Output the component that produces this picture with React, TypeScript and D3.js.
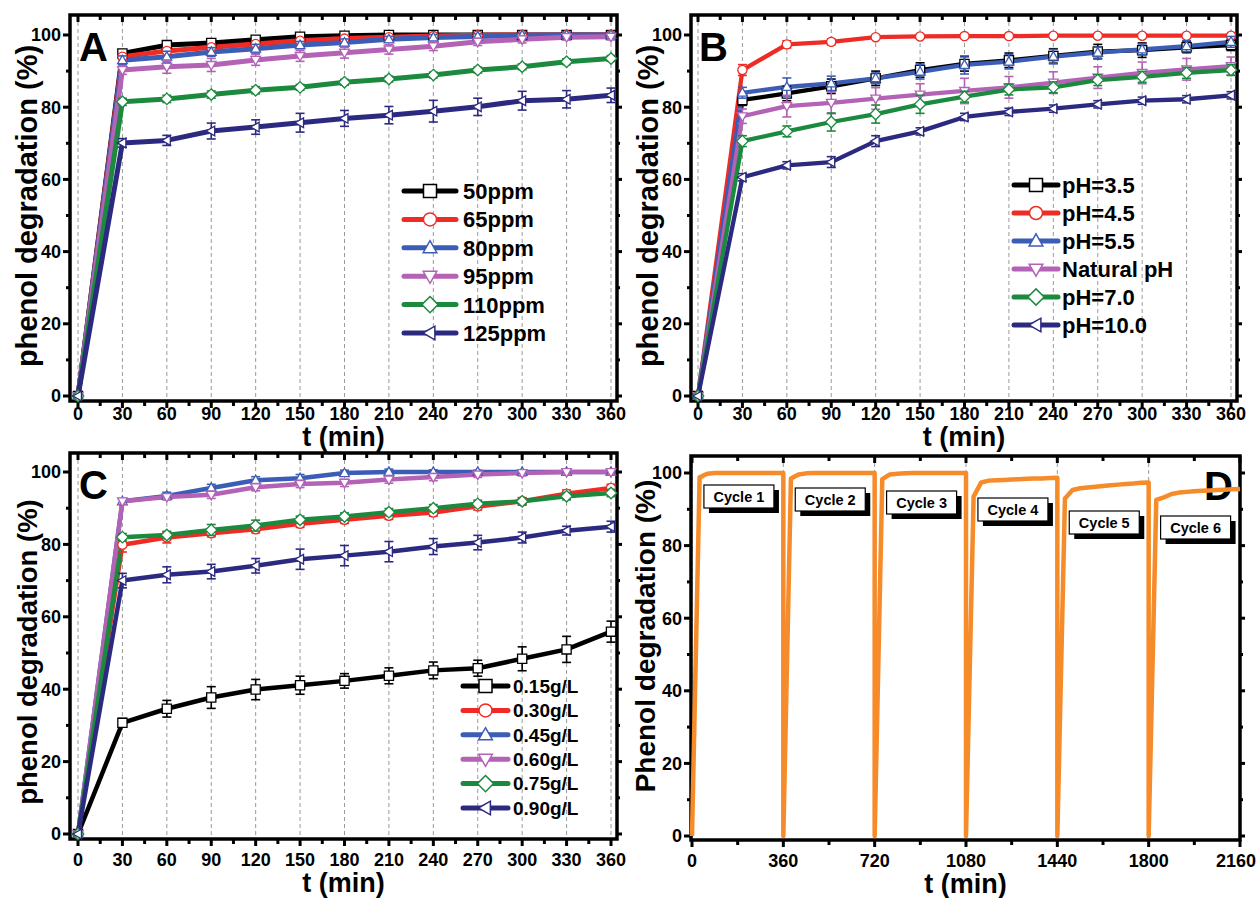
import React from 'react';
import * as d3 from 'd3';

// ---------- DATA ----------
const TIMES = [0, 30, 60, 90, 120, 150, 180, 210, 240, 270, 300, 330, 360];
const X_TICKS = [0, 30, 60, 90, 120, 150, 180, 210, 240, 270, 300, 330, 360];
const Y_TICKS = [0, 20, 40, 60, 80, 100];
const D_X_TICKS = [0, 360, 720, 1080, 1440, 1800, 2160];

// Panel A: initial concentration
const A_LABELS = ['50ppm', '65ppm', '80ppm', '95ppm', '110ppm', '125ppm'];
const A_50 = [0, 94.9, 97.2, 97.8, 98.7, 99.5, 99.8, 100, 100, 100, 100, 100, 100];
const A_65 = [0, 94.0, 95.6, 96.6, 97.5, 98.4, 99.0, 99.4, 99.7, 99.9, 100, 100, 100];
const A_80 = [0, 93.0, 94.0, 95.3, 96.2, 97.2, 97.9, 98.8, 99.3, 99.6, 99.9, 100, 100];
const A_95 = [0, 90.3, 91.2, 91.7, 93.1, 94.2, 95.1, 96.0, 96.9, 98.1, 98.8, 99.4, 99.5];
const A_110 = [0, 81.5, 82.3, 83.5, 84.7, 85.5, 86.9, 87.8, 88.9, 90.3, 91.2, 92.6, 93.5];
const A_125 = [0, 70.1, 70.8, 73.4, 74.5, 75.7, 76.9, 77.8, 78.9, 80.1, 81.8, 82.2, 83.3];
const A_50_ERR = [0, 1, 0.8, 0.8, 0.7, 0.6, 0.5, 0.5, 0.4, 0.4, 0.4, 0.3, 0.3];
const A_65_ERR = [0, 0.8, 0.8, 0.8, 0.7, 0.6, 0.5, 0.5, 0.4, 0.4, 0.4, 0.3, 0.3];
const A_80_ERR = [0, 1.2, 1.5, 1.2, 1.2, 1, 1, 0.8, 0.8, 0.7, 0.6, 0.5, 0.5];
const A_95_ERR = [0, 1.2, 1.8, 1.8, 1.5, 1.5, 1.5, 1.3, 1.2, 1, 1, 0.8, 0.8];
const A_110_ERR = [0, 1, 1, 1, 1, 0.8, 0.8, 0.8, 0.8, 0.8, 0.8, 0.8, 0.8];
const A_125_ERR = [0, 1.2, 1.4, 2.2, 2, 2.6, 2.2, 2.4, 3, 2.4, 2.6, 2.4, 2];

// Panel B: pH
const B_LABELS = ['pH=3.5', 'pH=4.5', 'pH=5.5', 'Natural pH', 'pH=7.0', 'pH=10.0'];
const B_35 = [0, 82.0, 83.8, 85.8, 88.0, 90.3, 92.0, 93.0, 94.2, 95.4, 95.8, 96.6, 97.2];
const B_45 = [0, 90.3, 97.4, 98.1, 99.4, 99.6, 99.7, 99.7, 99.8, 99.8, 99.8, 99.8, 99.8];
const B_55 = [0, 84.0, 85.6, 86.6, 88.0, 89.8, 91.7, 92.6, 94.0, 95.1, 96.0, 96.9, 98.1];
const B_NAT = [0, 77.5, 80.3, 81.2, 82.4, 83.5, 84.5, 85.5, 86.8, 88.2, 89.5, 90.5, 91.4];
const B_70 = [0, 70.6, 73.3, 75.9, 78.1, 80.8, 82.9, 84.9, 85.5, 87.5, 88.4, 89.5, 90.3];
const B_100 = [0, 60.6, 63.9, 64.8, 70.6, 73.3, 77.3, 78.7, 79.6, 80.8, 81.8, 82.2, 83.3];
const B_35_ERR = [0, 1.5, 2, 2, 2, 2, 2, 2, 2, 2, 2, 1.5, 1.5];
const B_45_ERR = [0, 1.5, 1, 0.8, 0.5, 0.5, 0.5, 0.5, 0.5, 0.5, 0.5, 0.5, 0.5];
const B_55_ERR = [0, 1.5, 2.5, 2, 1.5, 2, 2.5, 2, 2, 1.5, 1.5, 1.5, 1.5];
const B_NAT_ERR = [0, 2, 3, 3, 3, 3, 3.5, 3, 3, 3, 3, 3, 2.5];
const B_70_ERR = [0, 1.5, 1.5, 2.5, 2.5, 2.5, 1.5, 1.5, 1.5, 1.5, 1.5, 1.5, 1.5];
const B_100_ERR = [0, 1, 1, 1.5, 1.5, 1, 1, 1, 1, 1, 1, 1, 1];

// Panel C: catalyst dose
const C_LABELS = ['0.15g/L', '0.30g/L', '0.45g/L', '0.60g/L', '0.75g/L', '0.90g/L'];
const C_015 = [0, 30.7, 34.6, 37.7, 39.9, 41.1, 42.3, 43.7, 45.2, 45.8, 48.4, 51.0, 55.9];
const C_030 = [0, 79.9, 81.9, 83.1, 84.2, 85.7, 86.8, 87.9, 88.8, 90.5, 91.9, 94.0, 95.6];
const C_045 = [0, 91.9, 93.4, 95.6, 97.7, 98.3, 99.7, 100, 100, 100, 100, 100, 100];
const C_060 = [0, 91.9, 93.1, 93.7, 95.8, 96.7, 97.0, 97.9, 98.6, 99.3, 99.7, 100, 100];
const C_075 = [0, 82.0, 82.6, 84.0, 85.2, 86.8, 87.7, 88.9, 90.0, 91.2, 91.9, 93.3, 94.2];
const C_090 = [0, 70.0, 71.6, 72.5, 74.1, 75.9, 76.9, 78.0, 79.4, 80.5, 81.9, 83.8, 84.9];
const C_015_ERR = [0, 1.2, 2.3, 3, 2.8, 2.5, 2, 2.2, 2.3, 2.2, 3.3, 3.6, 2.9];
const C_030_ERR = [0, 2, 1.5, 1, 1, 1, 1, 1, 1, 1, 1, 1, 1];
const C_045_ERR = [0, 0.5, 1, 1, 1, 1, 0.8, 0.8, 0.6, 0.5, 0.5, 0.5, 0.5];
const C_060_ERR = [0, 0.8, 0.8, 1, 1, 1, 1, 1, 1, 0.8, 0.8, 0.8, 0.8];
const C_075_ERR = [0, 1, 1, 1.5, 1.5, 1, 1, 1, 1, 1, 1, 1, 1];
const C_090_ERR = [0, 2, 2.2, 2, 2, 2.8, 2.8, 2.8, 2.2, 2, 1.5, 1.2, 1.5];

// Panel D: recycling (each cycle sampled every 30 min)
const CYCLE_LABELS = ['Cycle 1', 'Cycle 2', 'Cycle 3', 'Cycle 4', 'Cycle 5', 'Cycle 6'];
const CYCLE_1 = [0, 98.8, 99.8, 100, 100, 100, 100, 100, 100, 100, 100, 100, 100];
const CYCLE_2 = [0, 98.5, 99.6, 99.9, 100, 100, 100, 100, 100, 100, 100, 100, 100];
const CYCLE_3 = [0, 98.3, 99.6, 99.8, 99.9, 100, 100, 100, 100, 100, 100, 100, 100];
const CYCLE_4 = [0, 93.5, 97.4, 97.9, 98.0, 98.1, 98.2, 98.3, 98.4, 98.5, 98.5, 98.6, 98.7];
const CYCLE_5 = [0, 93.0, 95.3, 95.8, 96.0, 96.2, 96.4, 96.6, 96.8, 97.0, 97.1, 97.3, 97.4];
const CYCLE_6 = [0, 92.6, 93.3, 94.2, 94.6, 94.8, 95.0, 95.1, 95.2, 95.3, 95.4, 95.5, 95.6];

// ---------- STYLE ----------
const COLORS = ['#000000', '#ee2b25', '#3b5db5', '#b462b6', '#1c8a3e', '#2c2a80'];
const SHAPES = ['square', 'circle', 'up', 'down', 'diamond', 'left'];
const ORANGE = '#f68b2a';
const FONT = "'Liberation Sans', Arimo, Arial, sans-serif";
const PAGE_W = 1257;

type Series = { label: string; values: number[]; err: number[] };

const mk = (labels: string[], vals: number[][], errs: number[][]): Series[] =>
  labels.map((l, i) => ({ label: l, values: vals[i], err: errs[i] }));

const SERIES_A = mk(A_LABELS, [A_50, A_65, A_80, A_95, A_110, A_125], [A_50_ERR, A_65_ERR, A_80_ERR, A_95_ERR, A_110_ERR, A_125_ERR]);
const SERIES_B = mk(B_LABELS, [B_35, B_45, B_55, B_NAT, B_70, B_100], [B_35_ERR, B_45_ERR, B_55_ERR, B_NAT_ERR, B_70_ERR, B_100_ERR]);
const SERIES_C = mk(C_LABELS, [C_015, C_030, C_045, C_060, C_075, C_090], [C_015_ERR, C_030_ERR, C_045_ERR, C_060_ERR, C_075_ERR, C_090_ERR]);
const CYCLES = [CYCLE_1, CYCLE_2, CYCLE_3, CYCLE_4, CYCLE_5, CYCLE_6];

function markerPath(shape: string, r: number): string {
  switch (shape) {
    case 'square':
      return `M${-r},${-r}H${r}V${r}H${-r}Z`;
    case 'circle':
      return `M${-r},0A${r},${r} 0 1,0 ${r},0A${r},${r} 0 1,0 ${-r},0Z`;
    case 'up':
      return `M0,${-r * 1.1}L${r * 1.05},${r * 0.75}L${-r * 1.05},${r * 0.75}Z`;
    case 'down':
      return `M0,${r * 1.1}L${r * 1.05},${-r * 0.75}L${-r * 1.05},${-r * 0.75}Z`;
    case 'diamond':
      return `M0,${-r * 1.25}L${r * 1.25},0L0,${r * 1.25}L${-r * 1.25},0Z`;
    case 'left':
      return `M${-r * 1.1},0L${r * 0.75},${-r * 1.05}L${r * 0.75},${r * 1.05}Z`;
  }
  return '';
}

function Frame({ box, xs, ys, xMajor, xMinor, yMajor, yMinor, grid, xTitle, yTitle, letter, letterPos, lab }: any) {
  const { fl, fr, ft, fb } = box;
  return (
    <g>
      {grid &&
        xMajor.map((t: number) => (
          <line key={'g' + t} x1={xs(t)} x2={xs(t)} y1={ft} y2={fb} stroke="#9a9a9a" strokeWidth={1} strokeDasharray="4,3" />
        ))}
      {yMajor.map((v: number) => (
        <line key={'ly' + v} x1={fl - 7} x2={fl} y1={ys(v)} y2={ys(v)} stroke="#000" strokeWidth={3} />
      ))}
      {yMinor.map((v: number) => (
        <line key={'lym' + v} x1={fl - 4} x2={fl} y1={ys(v)} y2={ys(v)} stroke="#000" strokeWidth={3} />
      ))}
      {yMajor.map((v: number) => (
        <line key={'ry' + v} x1={fr} x2={fr + 5} y1={ys(v)} y2={ys(v)} stroke="#000" strokeWidth={3} />
      ))}
      {yMinor.map((v: number) => (
        <line key={'rym' + v} x1={fr} x2={fr + 3} y1={ys(v)} y2={ys(v)} stroke="#000" strokeWidth={3} />
      ))}
      {xMajor.map((t: number) => (
        <line key={'bx' + t} x1={xs(t)} x2={xs(t)} y1={fb} y2={fb + 7} stroke="#000" strokeWidth={3} />
      ))}
      {xMinor.map((t: number) => (
        <line key={'bxm' + t} x1={xs(t)} x2={xs(t)} y1={fb} y2={fb + 5} stroke="#000" strokeWidth={3} />
      ))}
      {xMajor.map((t: number) => (
        <line key={'tx' + t} x1={xs(t)} x2={xs(t)} y1={ft} y2={ft + 7} stroke="#000" strokeWidth={3} />
      ))}
      {xMinor.map((t: number) => (
        <line key={'txm' + t} x1={xs(t)} x2={xs(t)} y1={ft} y2={ft + 5} stroke="#000" strokeWidth={3} />
      ))}
      <rect x={fl} y={ft} width={fr - fl} height={fb - ft} fill="none" stroke="#000" strokeWidth={3.5} />
      {yMajor.map((v: number) => (
        <text key={'yl' + v} x={fl - 9} y={ys(v)} dy="0.36em" textAnchor="end" fontFamily={FONT} fontWeight="bold" fontSize={18}>
          {v}
        </text>
      ))}
      {xMajor.map((t: number) => (
        <text
          key={'xl' + t}
          x={Math.min(xs(t), PAGE_W - 21)}
          y={fb + lab.tickDy}
          textAnchor="middle"
          fontFamily={FONT}
          fontWeight="bold"
          fontSize={18}
        >
          {t}
        </text>
      ))}
      <text x={(fl + fr) / 2} y={fb + lab.titleDy} textAnchor="middle" fontFamily={FONT} fontWeight="bold" fontSize={27}>
        {xTitle}
      </text>
      <text
        transform={`translate(${fl - lab.yTitleDx},${lab.yTitleCy}) rotate(-90)`}
        textAnchor="middle"
        fontFamily={FONT}
        fontWeight="bold"
        fontSize={lab.yTitleFs}
      >
        {yTitle}
      </text>
      <text x={letterPos[0]} y={letterPos[1]} fontFamily={FONT} fontWeight="bold" fontSize={40}>
        {letter}
      </text>
    </g>
  );
}

function KineticPanel({ box, x0, x1, y0, y100, series, letter, letterPos, legend, lab, lw }: any) {
  const xs = d3.scaleLinear().domain([0, 360]).range([x0, x1]);
  const ys = d3.scaleLinear().domain([0, 100]).range([y0, y100]);
  const line = d3
    .line<number>()
    .x((_, i) => xs(TIMES[i]))
    .y((d) => ys(d));
  const xMinor = d3.range(15, 360, 30);
  const yMinor = d3.range(10, 100, 20);
  return (
    <g>
      <Frame
        box={box}
        xs={xs}
        ys={ys}
        xMajor={X_TICKS}
        xMinor={xMinor}
        yMajor={Y_TICKS}
        yMinor={yMinor}
        grid
        xTitle="t (min)"
        yTitle="phenol degradation (%)"
        letter={letter}
        letterPos={letterPos}
        lab={lab}
      />
      {series.map((s: Series, si: number) => (
        <path key={s.label} d={line(s.values) || ''} fill="none" stroke={COLORS[si]} strokeWidth={lw} strokeLinejoin="round" />
      ))}
      {series.map((s: Series, si: number) => (
        <g key={s.label + 'm'}>
          {s.values.map((v, i) => {
            const e = s.err[i];
            const cx = xs(TIMES[i]);
            return (
              <g key={i}>
                {e > 0 && (
                  <g stroke={COLORS[si]} strokeWidth={1.6}>
                    <line x1={cx} x2={cx} y1={ys(v - e)} y2={ys(v + e)} />
                    <line x1={cx - 4.5} x2={cx + 4.5} y1={ys(v - e)} y2={ys(v - e)} />
                    <line x1={cx - 4.5} x2={cx + 4.5} y1={ys(v + e)} y2={ys(v + e)} />
                  </g>
                )}
                <path
                  d={markerPath(SHAPES[si], 4.6)}
                  transform={`translate(${cx},${ys(v)})`}
                  fill="#fff"
                  stroke={COLORS[si]}
                  strokeWidth={1.3}
                />
              </g>
            );
          })}
        </g>
      ))}
      {series.map((s: Series, si: number) => {
        const ly = legend.y + si * legend.dy;
        return (
          <g key={'leg' + si}>
            <line x1={legend.x} x2={legend.x + legend.w} y1={ly} y2={ly} stroke={COLORS[si]} strokeWidth={5} strokeLinecap="round" />
            <path
              d={markerPath(SHAPES[si], legend.r)}
              transform={`translate(${legend.x + legend.w / 2},${ly})`}
              fill="#fff"
              stroke={COLORS[si]}
              strokeWidth={1.5}
            />
            <text x={legend.tx} y={ly} dy="0.36em" fontFamily={FONT} fontWeight="bold" fontSize={legend.fs}>
              {s.label}
            </text>
          </g>
        );
      })}
    </g>
  );
}

function CyclePanel({ box, x0, x1, y0, y100, lab }: any) {
  const xs = d3.scaleLinear().domain([0, 2160]).range([x0, x1]);
  const ys = d3.scaleLinear().domain([0, 100]).range([y0, y100]);
  const pts: [number, number][] = [];
  CYCLES.forEach((c, k) => c.forEach((v, i) => pts.push([k * 360 + TIMES[i], v])));
  const line = d3
    .line<[number, number]>()
    .x((d) => xs(d[0]))
    .y((d) => ys(d[1]));
  const xMinor = d3.range(180, 2160, 360);
  const yMinor = d3.range(10, 100, 20);
  const boxY = [485, 488, 491, 498, 511, 516];
  return (
    <g>
      <Frame
        box={box}
        xs={xs}
        ys={ys}
        xMajor={D_X_TICKS}
        xMinor={xMinor}
        yMajor={Y_TICKS}
        yMinor={yMinor}
        grid
        xTitle="t (min)"
        yTitle="Phenol degradation (%)"
        letter="D"
        letterPos={[1204, 500]}
        lab={lab}
      />
      <path d={line(pts) || ''} fill="none" stroke={ORANGE} strokeWidth={4.5} strokeLinejoin="round" />
      {CYCLE_LABELS.map((lbl, k) => {
        const bx = xs(k * 360 + 47);
        return (
          <g key={lbl}>
            <rect x={bx + 5} y={boxY[k] + 5} width={70} height={23} fill="#000" />
            <rect x={bx} y={boxY[k]} width={70} height={23} fill="#fff" stroke="#000" strokeWidth={1.2} />
            <text x={bx + 35} y={boxY[k] + 17} textAnchor="middle" fontFamily={FONT} fontWeight="bold" fontSize={14.5}>
              {lbl}
            </text>
          </g>
        );
      })}
    </g>
  );
}

export default function App() {
  return (
    <svg width={1257} height={898} style={{ position: 'absolute', left: 0, top: 0, background: '#fff' }}>
      <rect width={1257} height={898} fill="#fff" />
      <KineticPanel
        box={{ fl: 70, fr: 617, ft: 15, fb: 401 }}
        x0={78}
        x1={611}
        y0={396}
        y100={35}
        series={SERIES_A}
        letter="A"
        letterPos={[79, 61]}
        legend={{ x: 404, y: 191, dy: 28.4, w: 52, tx: 463, r: 6.5, fs: 22 }}
        lab={{ tickDy: 19, titleDy: 45, yTitleDx: 33, yTitleCy: 206, yTitleFs: 29 }}
        lw={5}
      />
      <KineticPanel
        box={{ fl: 691, fr: 1237, ft: 15, fb: 401 }}
        x0={698}
        x1={1231}
        y0={396}
        y100={35}
        series={SERIES_B}
        letter="B"
        letterPos={[699, 61]}
        legend={{ x: 1014, y: 185, dy: 28, w: 44, tx: 1062, r: 6.5, fs: 22 }}
        lab={{ tickDy: 19, titleDy: 45, yTitleDx: 33, yTitleCy: 206, yTitleFs: 29 }}
        lw={4.3}
      />
      <KineticPanel
        box={{ fl: 70, fr: 617, ft: 453, fb: 839 }}
        x0={78}
        x1={611}
        y0={834}
        y100={472}
        series={SERIES_C}
        letter="C"
        letterPos={[79, 499]}
        legend={{ x: 463, y: 686, dy: 24.4, w: 45, tx: 513, r: 6.5, fs: 19 }}
        lab={{ tickDy: 27, titleDy: 53, yTitleDx: 33, yTitleCy: 652, yTitleFs: 27.5 }}
        lw={4.5}
      />
      <CyclePanel
        box={{ fl: 691, fr: 1240, ft: 456, fb: 840 }}
        x0={692}
        x1={1240}
        y0={836}
        y100={473}
        lab={{ tickDy: 27, titleDy: 53, yTitleDx: 36, yTitleCy: 636, yTitleFs: 28 }}
      />
    </svg>
  );
}
